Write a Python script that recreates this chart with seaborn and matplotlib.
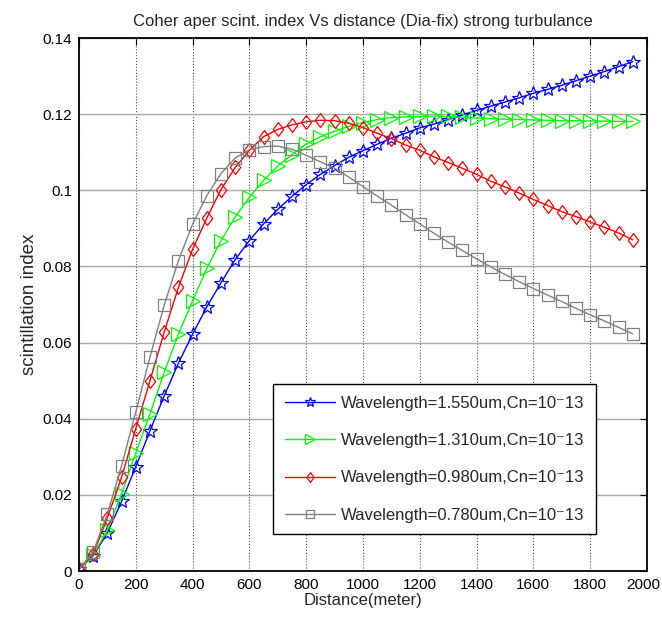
import pandas as pd
import seaborn as sns
import matplotlib.pyplot as plt
import matplotlib.transforms as mtransforms

# distance samples (meter)
distance = [0, 50, 100, 150, 200, 250, 300, 350, 400, 450,
            500, 550, 600, 650, 700, 750, 800, 850, 900, 950,
            1000, 1050, 1100, 1150, 1200, 1250, 1300, 1350, 1400, 1450,
            1500, 1550, 1600, 1650, 1700, 1750, 1800, 1850, 1900, 1950]

# scintillation index per wavelength
si_1550 = [0.0005, 0.0040, 0.0100, 0.0183, 0.0274, 0.0368, 0.0460, 0.0546, 0.0622, 0.0694,
           0.0757, 0.0818, 0.0868, 0.0912, 0.0950, 0.0984, 0.1015, 0.1042, 0.1065, 0.1087,
           0.1104, 0.1121, 0.1137, 0.1150, 0.1164, 0.1174, 0.1186, 0.1198, 0.1210, 0.1221,
           0.1232, 0.1243, 0.1255, 0.1265, 0.1276, 0.1288, 0.1300, 0.1312, 0.1325, 0.1338]
si_1310 = [0.0005, 0.0042, 0.0108, 0.0203, 0.0310, 0.0413, 0.0522, 0.0622, 0.0710, 0.0795,
           0.0868, 0.0930, 0.0982, 0.1026, 0.1064, 0.1094, 0.1122, 0.1141, 0.1155, 0.1168,
           0.1178, 0.1186, 0.1191, 0.1193, 0.1194, 0.1195, 0.1194, 0.1192, 0.1190, 0.1188,
           0.1187, 0.1186, 0.1185, 0.1184, 0.1183, 0.1183, 0.1182, 0.1182, 0.1181, 0.1181]
si_0980 = [0.0005, 0.0045, 0.0140, 0.0246, 0.0374, 0.0500, 0.0627, 0.0745, 0.0845, 0.0927,
           0.1002, 0.1060, 0.1105, 0.1141, 0.1160, 0.1172, 0.1180, 0.1184, 0.1183, 0.1176,
           0.1165, 0.1150, 0.1136, 0.1119, 0.1105, 0.1088, 0.1073, 0.1058, 0.1042, 0.1024,
           0.1009, 0.0993, 0.0976, 0.0960, 0.0944, 0.0931, 0.0917, 0.0903, 0.0888, 0.0870]
si_0780 = [0.0005, 0.0050, 0.0150, 0.0277, 0.0418, 0.0562, 0.0698, 0.0815, 0.0911, 0.0986,
           0.1044, 0.1085, 0.1107, 0.1115, 0.1116, 0.1108, 0.1092, 0.1075, 0.1058, 0.1035,
           0.1010, 0.0985, 0.0961, 0.0936, 0.0912, 0.0887, 0.0864, 0.0842, 0.0820, 0.0799,
           0.0779, 0.0760, 0.0742, 0.0725, 0.0708, 0.0690, 0.0673, 0.0657, 0.0640, 0.0623]

labels = ["Wavelength=1.550um,Cn=10\u207b13",
          "Wavelength=1.310um,Cn=10\u207b13",
          "Wavelength=0.980um,Cn=10\u207b13",
          "Wavelength=0.780um,Cn=10\u207b13"]

x_ticks = [0, 200, 400, 600, 800, 1000, 1200, 1400, 1600, 1800, 2000]
y_ticks = [0, 0.02, 0.04, 0.06, 0.08, 0.1, 0.12, 0.14]
y_ticklabels = ["0", "0.02", "0.04", "0.06", "0.08", "0.1", "0.12", "0.14"]

sns.set_style("white")
plt.rcParams["font.family"] = ["Liberation Sans", "DejaVu Sans"]

# MATLAB-like marker / colour per series
tall_diamond = [(0, 1), (0.75, 0), (0, -1), (-0.75, 0), (0, 1)]
styles = [("#0000ff", "*", 10.5),
          ("#00ff00", ">", 9.5),
          ("#ff0000", tall_diamond, 10),
          ("#808080", "s", 8)]
series = [si_1550, si_1310, si_0980, si_0780]

fig = plt.figure(figsize=(6.62, 6.24), dpi=100)
ax = fig.add_axes([0.1193, 0.0849, 0.858, 0.8541])

for vals, lab, (col, mk, ms) in zip(series, labels, styles):
    df = pd.DataFrame({"Distance": distance, "SI": vals})
    sns.lineplot(data=df, x="Distance", y="SI", ax=ax, color=col, label=lab,
                 marker=mk, markersize=ms, markerfacecolor="none",
                 markeredgecolor=col, markeredgewidth=0.9, linewidth=1.0)

ax.set_xlim(0, 2000)
ax.set_ylim(0, 0.14)
ax.set_xticks(x_ticks)
ax.set_yticks(y_ticks)
ax.set_yticklabels(y_ticklabels)
ax.tick_params(direction="in", length=5, width=0.8, top=True, right=True,
               labelsize=11, colors="black", pad=5)

# nudge the last x label so it stays inside the figure
last = ax.get_xticklabels()[-1]
last.set_transform(last.get_transform() +
                   mtransforms.ScaledTranslation(-4 / 100, 0, fig.dpi_scale_trans))

# grid: vertical dotted, horizontal grey
ax.xaxis.grid(True, linestyle=":", color="#505050", linewidth=0.8)
ax.yaxis.grid(True, linestyle="-", color="#a8a8a8", linewidth=1.0)
ax.set_axisbelow(True)
for sp in ax.spines.values():
    sp.set_visible(True)
    sp.set_color("black")
    sp.set_linewidth(1.3)

ax.set_title("Coher aper scint. index Vs distance (Dia-fix) strong turbulance",
             fontsize=12, pad=9)
ax.set_xlabel("Distance(meter)", fontsize=12, labelpad=1)
ax.set_ylabel("scintillation index", fontsize=13.5, labelpad=3)

leg = ax.legend(loc="upper left", bbox_to_anchor=(0.3415, 0.3508),
                fontsize=12, markerscale=0.7, handlelength=3.0, handletextpad=0.4,
                labelspacing=1.34, borderpad=0.7, borderaxespad=0, fancybox=False,
                framealpha=1, edgecolor="black", numpoints=1)
leg.get_frame().set_linewidth(1.0)

plt.savefig("out.png", dpi=100)
